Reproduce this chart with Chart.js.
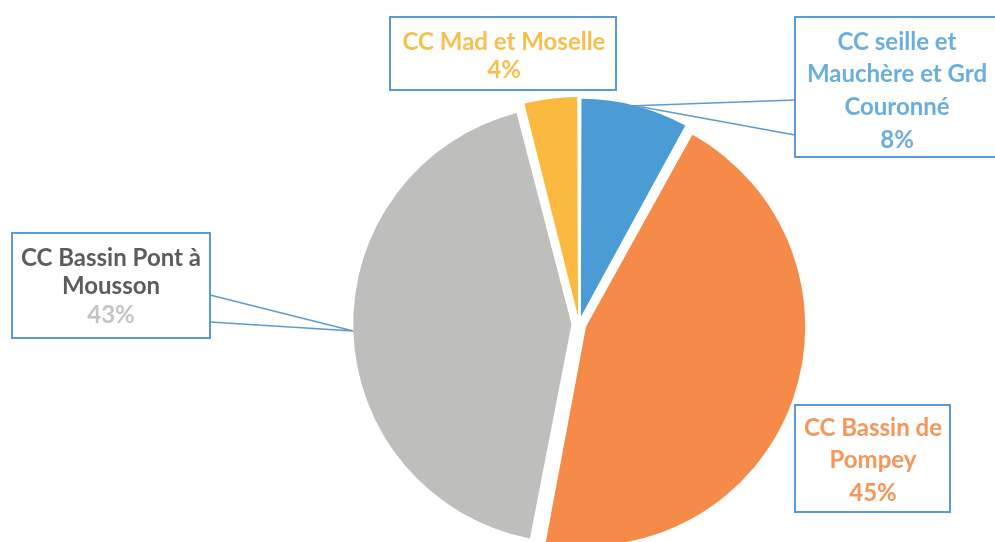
<!DOCTYPE html>
<html>
<head>
    <title>Pie</title>
    <script src="https://cdn.jsdelivr.net/npm/chart.js"></script>
    <style>
        html, body { margin: 0; padding: 0; background: #fff; }
        #wrap { width: 995px; height: 542px; position: relative; }
    </style>
</head>
<body>
    <div id="wrap"><canvas id="myChart"></canvas></div>
    <script>
        // Data
        const names = [
            ['CC seille et', 'Mauchère et Grd', 'Couronné'],
            ['CC Bassin de', 'Pompey'],
            ['CC Bassin Pont à', 'Mousson'],
            ['CC Mad et Moselle']
        ];
        const values = [8, 45, 43, 4];
        const sliceColors = ['#4b9cd5', '#f68a48', '#bebebc', '#fcb940'];
        const nameColors = ['#6aaedd', '#f6965a', '#5c5c5c', '#f8bf4c'];
        const pctColors = ['#6aaedd', '#f6965a', '#c4c4c4', '#f8bf4c'];

        // Label boxes: [left, top, right, bottom, text centre x, first line y, line step]
        const boxes = [
            [795, 17, 999, 157, 897, 42, 32.7],
            [795, 405, 950, 512, 873, 428, 32.5],
            [12, 233, 210, 338, 111, 258, 28.5],
            [390, 17, 616, 90, 504, 42, 28]
        ];
        // wedge callout: box edge points that run to the slice
        const callouts = [
            [[795, 100], [795, 135]],
            null,
            [[210, 295], [210, 322]],
            null
        ];

        const total = values.reduce((a, b) => a + b, 0);

        const labelPlugin = {
            id: 'boxLabels',
            afterDatasetsDraw(chart) {
                const ctx = chart.ctx;
                const arcs = chart.getDatasetMeta(0).data;
                ctx.save();
                arcs.forEach((arc, i) => {
                    const p = arc.getProps(['x', 'y', 'startAngle', 'endAngle', 'outerRadius', 'circumference']);
                    const mid = (p.startAngle + p.endAngle) / 2;
                    // same shift as the arc element uses when it draws
                    const off = arc.options.offset / 4;
                    const grow = off * (1 - Math.sin(Math.min(Math.PI, p.circumference)));
                    const cx = p.x + Math.cos(mid) * off;
                    const cy = p.y + Math.sin(mid) * off;
                    const ax = cx + Math.cos(mid) * (p.outerRadius + grow);
                    const ay = cy + Math.sin(mid) * (p.outerRadius + grow);

                    const b = boxes[i];
                    ctx.fillStyle = '#ffffff';
                    ctx.fillRect(b[0], b[1], b[2] - b[0], b[3] - b[1]);
                    ctx.strokeStyle = '#5b9bd5';
                    ctx.lineWidth = 2;
                    ctx.strokeRect(b[0], b[1], b[2] - b[0], b[3] - b[1]);

                    if (callouts[i]) {
                        ctx.lineWidth = 1.5;
                        ctx.beginPath();
                        ctx.moveTo(callouts[i][0][0], callouts[i][0][1]);
                        ctx.lineTo(ax, ay);
                        ctx.lineTo(callouts[i][1][0], callouts[i][1][1]);
                        ctx.stroke();
                    }

                    ctx.font = 'bold 24px Lato';
                    ctx.textAlign = 'center';
                    ctx.textBaseline = 'middle';
                    const lines = names[i];
                    lines.forEach((t, k) => {
                        ctx.fillStyle = nameColors[i];
                        ctx.fillText(t, b[4], b[5] + k * b[6]);
                    });
                    ctx.fillStyle = pctColors[i];
                    const pct = Math.round(values[i] / total * 100) + '%';
                    ctx.fillText(pct, b[4], b[5] + lines.length * b[6]);
                });
                ctx.restore();
            }
        };

        const ctx = document.getElementById('myChart').getContext('2d');
        new Chart(ctx, {
            type: 'pie',
            data: {
                labels: names.map(n => n.join(' ')),
                datasets: [{
                    data: values,
                    backgroundColor: sliceColors,
                    borderWidth: 0,
                    offset: 30,
                    clip: false
                }]
            },
            options: {
                responsive: true,
                maintainAspectRatio: false,
                animation: false,
                radius: 214,
                layout: {
                    padding: { top: 106, left: 163, right: 0, bottom: 0 }
                },
                plugins: {
                    legend: { display: false },
                    tooltip: { enabled: false }
                }
            },
            plugins: [labelPlugin]
        });
    </script>
</body>
</html>
